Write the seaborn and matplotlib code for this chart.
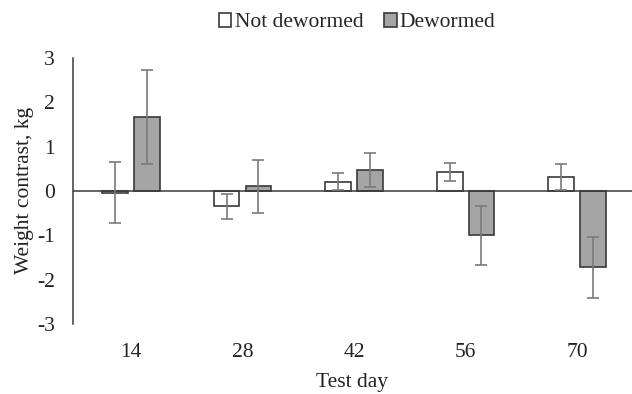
import matplotlib
matplotlib.use("Agg")
from matplotlib import pyplot as plt
import seaborn as sns
import pandas as pd

# Dati
days = ["14", "28", "42", "56", "70"]
groups = ["Not dewormed", "Dewormed"]
not_dewormed = [-0.04, -0.35, 0.21, 0.42, 0.31]
not_dewormed_err = [0.69, 0.29, 0.20, 0.20, 0.30]
dewormed = [1.67, 0.10, 0.47, -1.00, -1.72]
dewormed_err = [1.06, 0.59, 0.38, 0.67, 0.69]

df = pd.DataFrame({
    "day": days * 2,
    "group": [groups[0]] * len(days) + [groups[1]] * len(days),
    "value": not_dewormed + dewormed,
})
errors = [not_dewormed_err, dewormed_err]

sns.set_style("white")
plt.rcParams["font.family"] = ["Liberation Serif", "DejaVu Serif"]
fs = 15.5

fig = plt.figure(figsize=(6.32, 3.94), dpi=100)
ax = fig.add_axes([0.1155, 0.178, 0.884, 0.675])

sns.barplot(data=df, x="day", y="value", hue="group", order=days, hue_order=groups,
            palette=["white", "#a5a5a5"], edgecolor="#3a3a3a", linewidth=1.2,
            width=0.57, gap=0.19, errorbar=None, ax=ax)

# Barre di errore
for cont, err in zip(ax.containers, errors):
    xs = [p.get_x() + p.get_width() / 2 for p in cont.patches]
    ys = [p.get_y() + p.get_height() for p in cont.patches]
    ax.errorbar(xs, ys, yerr=err, fmt="none", ecolor="#7a7a7a", elinewidth=1.2,
                capsize=4, capthick=1.2, zorder=5)

ax.axhline(0, color="#3a3a3a", lw=1.1, zorder=4)
ax.set_ylim(-3, 3)
ax.set_xlim(-0.52, 4.49)
ax.set_yticks([-3, -2, -1, 0, 1, 2, 3])
ax.set_yticklabels(["-3", "-2", "-1", "0", "1", "2", "3"])
ax.tick_params(axis="both", length=0, labelsize=fs, labelcolor="#222222")
ax.tick_params(axis="x", pad=14)
ax.tick_params(axis="y", pad=13)

for s in ["top", "right", "bottom"]:
    ax.spines[s].set_visible(False)
ax.spines["left"].set_color("#3a3a3a")
ax.spines["left"].set_linewidth(1.1)

ax.set_xlabel("Test day", fontsize=fs, color="#222222", labelpad=8)
ax.set_ylabel("Weight contrast, kg", fontsize=fs, color="#222222", labelpad=2)

handles, labels = ax.get_legend_handles_labels()
ax.legend(handles, labels, ncol=2, frameon=False, loc="upper center",
          bbox_to_anchor=(0.565, 1.0), bbox_transform=fig.transFigure,
          handlelength=0.6, handleheight=0.6, handletextpad=0.15,
          columnspacing=0.95, fontsize=fs, borderaxespad=0.2)

fig.savefig("out.png", dpi=100)
